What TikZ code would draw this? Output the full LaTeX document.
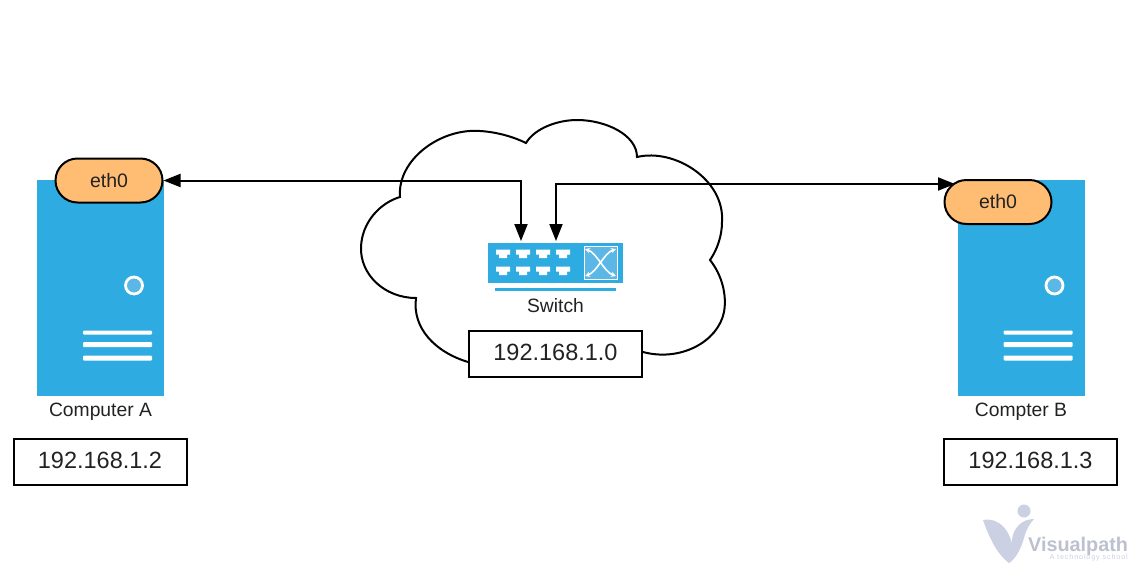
\documentclass[tikz,border=0pt]{standalone}
\usepackage{fontspec}
\setmainfont{Liberation Sans}
\newfontfamily\tagfont[LetterSpace=12]{Liberation Sans}
\usepackage{xcolor}
\usetikzlibrary{positioning, arrows.meta}
\definecolor{towerblue}{HTML}{2EACE2}
\definecolor{portblue}{HTML}{5BB8E6}
\definecolor{pillorange}{HTML}{FFBD74}
\definecolor{inkgrey}{HTML}{222222}
\definecolor{markgrey}{HTML}{CBD0E3}

\begin{document}
\begin{tikzpicture}[
                x=1pt, y=-1pt,
                tower/.style={rectangle, fill=towerblue, minimum width=127pt, minimum height=216pt, inner sep=0pt},
                pill/.style={rectangle, rounded corners=22pt, draw=black, line width=2pt, fill=pillorange, text=inkgrey, minimum width=107pt, minimum height=44pt, inner sep=0pt, font=\fontsize{19.5}{22}\selectfont},
                addr/.style={rectangle, draw=black, line width=2pt, fill=white, text=inkgrey, minimum width=173pt, minimum height=46pt, inner sep=0pt, text height=17pt, text depth=4pt, font=\fontsize{23.5}{26}\selectfont},
                caption/.style={text=inkgrey, inner sep=0pt, font=\fontsize{19.3}{22}\selectfont},
                led/.style={circle, draw=white, line width=2.8pt, fill=portblue, minimum size=17pt, inner sep=0pt},
                slot/.style={rectangle, fill=white, minimum width=69pt, inner sep=0pt, rounded corners=1pt},
                edge/.style={{Triangle[length=17pt,width=13pt]}-{Triangle[length=17pt,width=13pt]}, line width=2pt},
                port/.pic={\fill[white] (-7,-3.5) -- (7,-3.5) -- (7,1.5) -- (4,1.5) -- (4,5) -- (-4,5) -- (-4,1.5) -- (-7,1.5) -- cycle;},
            ]
            \useasboundingbox (0,0) rectangle (1128,563);

            % Cloud
            \draw[line width=2pt, fill=white] (400,197)
                .. controls (397,160) and (440,128) .. (480,131)
                .. controls (497,132) and (514,137) .. (526,143)
                .. controls (535,128) and (558,120) .. (577,120)
                .. controls (606,120) and (637,135) .. (637,157)
                .. controls (675,148) and (725,180) .. (722,222)
                .. controls (722,236) and (717,250) .. (710,260)
                .. controls (722,275) and (727,295) .. (724,312)
                .. controls (718,342) and (680,362) .. (643,352)
                -- (468,362)
                .. controls (435,352) and (412,328) .. (416,298)
                .. controls (385,298) and (360,275) .. (361,247)
                .. controls (362,222) and (380,203) .. (400,197) -- cycle;

            % Computer A
            \node[tower] (towerA) at (100.5,288) {};
            \node[pill] (ethA) at (109,180.5) {eth0};
            \node[led] (ledA) at (134,285.5) {};
            \node[slot, minimum height=4pt] (slotA1) at (117.5,332.5) {};
            \node[slot, minimum height=5pt] (slotA2) at (117.5,344.5) {};
            \node[slot, minimum height=5pt] (slotA3) at (117.5,358) {};
            \node[caption, below=7pt of towerA] (nameA) {Computer A};
            \node[addr] (addrA) at (100,461.5) {192.168.1.2};

            % Computer B
            \node[tower] (towerB) at (1021,288) {};
            \node[pill] (ethB) at (998,202) {eth0};
            \node[led] (ledB) at (1054.5,285.5) {};
            \node[slot, minimum height=4pt] (slotB1) at (1038,332.5) {};
            \node[slot, minimum height=5pt] (slotB2) at (1038,344.5) {};
            \node[slot, minimum height=5pt] (slotB3) at (1038,358) {};
            \node[caption, below=7pt of towerB] (nameB) {Compter B};
            \node[addr] (addrB) at (1030.5,461.5) {192.168.1.3};

            % Switch
            \node[rectangle, fill=towerblue, minimum width=135pt, minimum height=40pt, inner sep=0pt] (switch) at (555.5,263) {};
            \node[rectangle, fill=towerblue, minimum width=121pt, minimum height=3pt, inner sep=0pt] (switchbar) at (555.5,289.5) {};
            \node[rectangle, draw=white, line width=1pt, fill=portblue, minimum size=33pt, inner sep=0pt] (matrix) at (600.5,262.5) {};
            \pic at (503,253) {port};
            \pic at (523,253) {port};
            \pic at (543,253) {port};
            \pic at (563,253) {port};
            \pic at (503,270) {port};
            \pic at (523,270) {port};
            \pic at (543,270) {port};
            \pic at (563,270) {port};
            \draw[white, line width=1.6pt, {Stealth[length=5pt,width=5pt]}-{Stealth[length=5pt,width=5pt]}] (585,276) .. controls (597,272) and (604,253) .. (616,249);
            \draw[white, line width=1.6pt, {Stealth[length=5pt,width=5pt]}-{Stealth[length=5pt,width=5pt]}] (585,249) .. controls (597,253) and (604,272) .. (616,276);
            \node[caption, below=7pt of switchbar] (switchname) {Switch};
            \node[addr] (addrnet) at (555.5,354) {192.168.1.0};

            % Connections
            \coordinate (inA) at (521,241);
            \coordinate (inB) at (556,241);
            \coordinate (tipB) at (955,184);
            \draw[edge] (ethA.east) -- (ethA.east -| inA) -- (inA);
            \draw[edge] (inB) -- (inB |- tipB) -- (tipB);

            % Watermark
            \fill[markgrey] (983,520) .. controls (1000,517) and (1012,532) .. (1013,552) .. controls (1013,556) and (1012,560) .. (1009,563) .. controls (998,555) and (990,540) .. (983,520) -- cycle;
            \fill[markgrey] (1009,563) .. controls (1014,560) and (1020,552) .. (1024,538) .. controls (1026,530) and (1030,523) .. (1034,519) .. controls (1022,519) and (1013,528) .. (1012,540) -- cycle;
            \node[circle, fill=markgrey, minimum size=13pt, inner sep=0pt] (markdot) at (1024,511) {};
            \node[text=markgrey!80!gray, inner sep=0pt, anchor=base west, font=\bfseries\fontsize{19.8}{22}\selectfont] (markname) at (1028,551.5) {Visualpath};
            \node[text=markgrey, inner sep=0pt, anchor=base east, font=\tagfont\fontsize{7.2}{9}\selectfont] (marktag) at (1128,559.5) {A technology school};
            \end{tikzpicture}
\end{document}
